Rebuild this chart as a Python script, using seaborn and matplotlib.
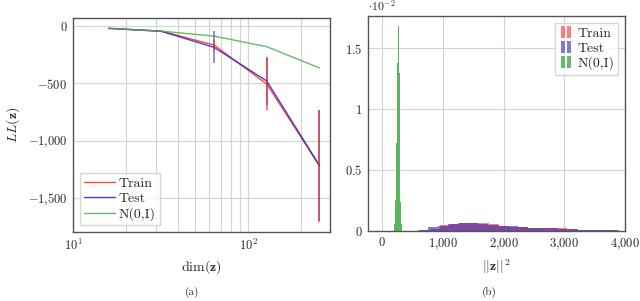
import numpy as np
import pandas as pd
import seaborn as sns
import matplotlib.pyplot as plt
from matplotlib.patches import Rectangle
from matplotlib.legend_handler import HandlerPatch
from matplotlib.ticker import FixedLocator, FixedFormatter, NullFormatter

# (a) log-likelihood vs latent dimension
dims = [16, 32, 64, 128, 256]
ll_train = [-20, -44, -166, -506, -1222]
ll_test = [-20, -46, -186, -480, -1218]
ll_prior = [-20, -44, -88, -180, -366]
err_train = [0, 0, 55, 225, 490]
err_test = [0, 0, 140, 210, 485]

# (b) histograms of ||z||^2 (density, in units of 1e-2)
train_edges = [640 + 160 * k for k in range(22)]
train_heights = [0.004, 0.015, 0.048, 0.055, 0.062, 0.065, 0.062, 0.055, 0.040, 0.035, 0.030,
                 0.026, 0.022, 0.022, 0.020, 0.015, 0.010, 0.008, 0.008, 0.004, 0.003]
test_edges = [590 + 165 * k for k in range(21)]
test_heights = [0.006, 0.030, 0.040, 0.055, 0.063, 0.068, 0.060, 0.050, 0.042, 0.038,
                0.030, 0.025, 0.022, 0.020, 0.016, 0.012, 0.010, 0.008, 0.006, 0.005]
prior_edges = [192 + 16 * k for k in range(10)]
prior_heights = [0.06, 0.25, 0.72, 1.38, 1.68, 1.30, 0.66, 0.24, 0.06]

RED = (1.0, 0.15, 0.15)
BLUE = (0.15, 0.15, 0.75)
GREEN = (0.3, 0.68, 0.3)
GREEN_HIST = (0.36, 0.71, 0.36)

sns.set_theme(style="whitegrid")
plt.rcParams['font.family'] = 'serif'
plt.rcParams['font.serif'] = ['cmr10']
plt.rcParams['mathtext.fontset'] = 'cm'
plt.rcParams['axes.formatter.use_mathtext'] = True
plt.rcParams['axes.unicode_minus'] = False

fig = plt.figure(figsize=(6.4, 3.01), dpi=100)
ax1 = fig.add_axes([0.114, 0.229, 0.402, 0.711])
ax2 = fig.add_axes([0.575, 0.233, 0.402, 0.714])

df = pd.DataFrame({
    'dim': dims * 3,
    'll': ll_train + ll_test + ll_prior,
    'set': ['Train'] * 5 + ['Test'] * 5 + ['N(0,I)'] * 5,
})
sns.lineplot(data=df, x='dim', y='ll', hue='set', ax=ax1, linewidth=1.0,
             palette={'Train': RED, 'Test': BLUE, 'N(0,I)': GREEN}, alpha=0.85)
ax1.errorbar(dims, ll_test, yerr=err_test, fmt='none', ecolor=BLUE, alpha=0.6, lw=1.2, zorder=3)
ax1.errorbar(dims, ll_train, yerr=err_train, fmt='none', ecolor=RED, alpha=0.7, lw=1.2, zorder=4)

ax1.set_xscale('log')
ax1.set_xlim(10, 295)
ax1.set_ylim(-1800, 70)
ax1.yaxis.set_major_locator(FixedLocator([0, -500, -1000, -1500]))
ax1.yaxis.set_major_formatter(FixedFormatter(['$0$', '$-500$', '$-1{,}000$', '$-1{,}500$']))
ax1.xaxis.set_minor_formatter(NullFormatter())
ax1.grid(True, which='both', color='#d4d4d4', lw=0.8)
ax1.set_xlabel(r'$\dim(\mathbf{z})$', fontsize=10)
ax1.set_ylabel(r'$LL(\mathbf{z})$', fontsize=10)
ax1.legend(loc='lower left', fontsize=10, frameon=True, fancybox=False, edgecolor='#cccccc',
           handlelength=2.2, borderpad=0.3, labelspacing=0.15, handletextpad=0.3)

sns.histplot(x=np.diff(train_edges) / 2 + train_edges[:-1], weights=train_heights, bins=train_edges,
             element='step', color=RED, alpha=0.6, linewidth=0, ax=ax2)
sns.histplot(x=np.diff(test_edges) / 2 + test_edges[:-1], weights=test_heights, bins=test_edges,
             element='step', color=BLUE, alpha=0.6, linewidth=0, ax=ax2)
sns.histplot(x=np.diff(prior_edges) / 2 + prior_edges[:-1], weights=prior_heights, bins=prior_edges,
             element='bars', color=GREEN_HIST, alpha=1.0, linewidth=0, antialiased=False, ax=ax2)
ax2.set_xlim(-230, 4000)
ax2.set_ylim(0, 1.765)
ax2.xaxis.set_major_locator(FixedLocator([0, 1000, 2000, 3000, 4000]))
ax2.xaxis.set_major_formatter(FixedFormatter(['$0$', '$1{,}000$', '$2{,}000$', '$3{,}000$', '$4{,}000$']))
ax2.yaxis.set_major_locator(FixedLocator([0, 0.5, 1, 1.5]))
ax2.yaxis.set_major_formatter(FixedFormatter(['$0$', '$0.5$', '$1$', '$1.5$']))
ax2.grid(True, color='#d4d4d4', lw=0.8)
ax2.set_axisbelow(True)
ax2.set_xlabel(r'$||\mathbf{z}||^2$', fontsize=10)
ax2.set_ylabel('')
ax2.text(0.0, 1.012, r'$\cdot 10^{-2}$', transform=ax2.transAxes, fontsize=8.5, va='bottom')


class TwoBars(HandlerPatch):
    def create_artists(self, legend, orig_handle, xdescent, ydescent, width, height, fontsize, trans):
        arts = []
        for x0 in (0.1 * width, 0.55 * width):
            r = Rectangle((x0 - xdescent, -ydescent - 0.1 * height), 0.3 * width, 1.2 * height,
                          facecolor=orig_handle.get_facecolor(), edgecolor='none', transform=trans)
            arts.append(r)
        return arts


handles = [Rectangle((0, 0), 1, 1, facecolor=RED, alpha=0.6),
           Rectangle((0, 0), 1, 1, facecolor=BLUE, alpha=0.6),
           Rectangle((0, 0), 1, 1, facecolor=GREEN, alpha=0.85)]
ax2.legend(handles, ['Train', 'Test', 'N(0,I)'], loc='upper right', fontsize=10, frameon=True,
           fancybox=False, edgecolor='#cccccc', handlelength=1.0, borderpad=0.3,
           labelspacing=0.15, handletextpad=0.3,
           handler_map={Rectangle: TwoBars()})

for ax in (ax1, ax2):
    ax.tick_params(labelsize=9, length=0, pad=4)
    for s in ax.spines.values():
        s.set_color('#555555')
        s.set_linewidth(1.0)

fig.text(0.30, 0.02, '(a)', fontsize=8, ha='center')
fig.text(0.765, 0.02, '(b)', fontsize=8, ha='center')

fig.savefig('out.png', dpi=100)
